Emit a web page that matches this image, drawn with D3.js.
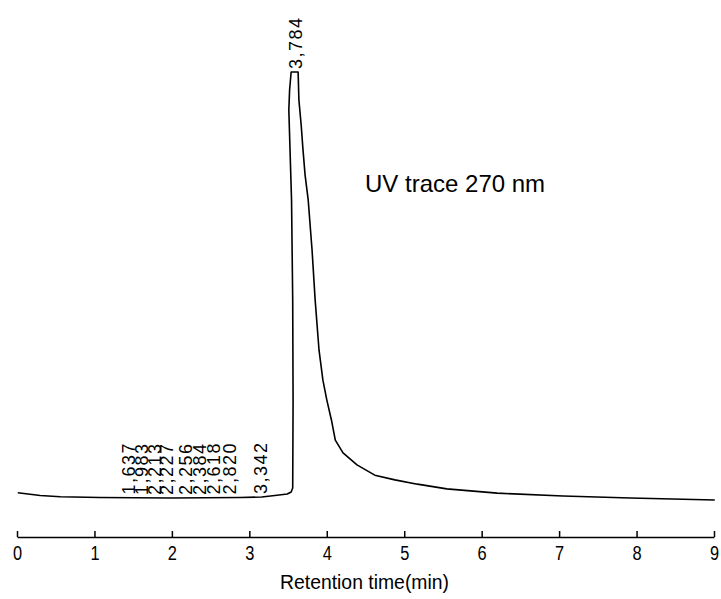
<!DOCTYPE html>
<html>
<head>
<meta charset="utf-8">
<script src="https://d3js.org/d3.v7.min.js"></script>
<style>
  body { margin: 0; background: #fff; }
  svg { display: block; }
</style>
</head>
<body>
<div id="chart"></div>
<script>
// trace (minutes on the axis, signal in mAU)
var timeMin = [0.01, 0.30, 0.56, 1.07, 1.98, 2.88, 3.16, 3.33, 3.49, 3.54, 3.56, 3.565, 3.56, 3.545, 3.51, 3.52, 3.54,
  3.63, 3.64, 3.67, 3.69, 3.72, 3.76, 3.81, 3.85, 3.90, 3.95, 4.00, 4.06, 4.11, 4.21, 4.39, 4.62, 4.88, 5.17, 5.55, 6.20, 7.05, 7.92, 9.01];
var signal = [17, 10.5, 7.7, 5.8, 4.7, 5.8, 7, 10.5, 14, 18.7, 28, 234, 467, 701, 911, 958, 1000,
  1000, 935, 875, 825, 759, 701, 584, 467, 350, 280, 234, 187, 140, 110, 82, 58, 47, 37, 26, 16, 9.3, 4.7, 0];

// peak labels and where they sit along the axis
var peakNames = ["1,637", "1,983", "2,213", "2,227", "2,256", "2,384", "2,618", "2,820", "3,342", "3,784"];
var peakPos = [1.446, 1.61, 1.78, 1.93, 2.17, 2.36, 2.54, 2.75, 3.15, 3.59];

var xTicks = [0, 1, 2, 3, 4, 5, 6, 7, 8, 9];

var width = 721, height = 599;

var svg = d3.select("#chart")
  .append("svg")
  .attr("width", width)
  .attr("height", height);

var x = d3.scaleLinear().domain([0, 9]).range([17, 714]);
var y = d3.scaleLinear().domain([0, 1000]).range([500, 72]);

var trace = timeMin.map(function(t, i) { return [t, signal[i]]; });

var line = d3.line()
  .x(function(d) { return x(d[0]); })
  .y(function(d) { return y(d[1]); });

svg.append("path")
  .datum(trace)
  .attr("fill", "none")
  .attr("stroke", "#000")
  .attr("stroke-width", 1.6)
  .attr("stroke-linejoin", "round")
  .attr("d", line);

// signal level at a given time, for parking the labels just above the trace
function levelAt(t) {
  var best = trace[0];
  trace.forEach(function(d) { if (d[1] > 0 && Math.abs(d[0] - t) < Math.abs(best[0] - t)) best = d; });
  return best[1];
}

svg.selectAll(".peak")
  .data(peakNames)
  .enter()
  .append("text")
  .attr("class", "peak")
  .attr("transform", function(d, i) {
    var t = peakPos[i];
    var lvl = i == peakNames.length - 1 ? 1000 : levelAt(t);
    return "translate(" + (x(t) + 6.5) + "," + (y(lvl) - 3) + ") rotate(-90)";
  })
  .attr("font-family", "'Liberation Sans', Arial, sans-serif")
  .attr("font-size", 18)
  .attr("letter-spacing", 1.5)
  .text(function(d) { return d; });

// x axis, ticks pointing up
var xAxis = d3.axisBottom(x)
  .tickValues(xTicks)
  .tickFormat(d3.format("d"))
  .tickSizeInner(-6)
  .tickSizeOuter(0)
  .tickPadding(8);

var gx = svg.append("g")
  .attr("transform", "translate(0,537)")
  .call(xAxis);

gx.select(".domain").attr("stroke-width", 1.5);
gx.selectAll(".tick line").attr("stroke-width", 1.5);
// the tick numbers are squeezed sideways in the original
gx.selectAll("text")
  .attr("fill", "#000")
  .attr("font-family", "'Liberation Sans', Arial, sans-serif")
  .attr("font-size", 21)
  .attr("transform", "scale(0.78,1)");

svg.append("text")
  .attr("x", 364.5)
  .attr("y", 589)
  .attr("text-anchor", "middle")
  .attr("font-family", "'Liberation Sans', Arial, sans-serif")
  .attr("font-size", 21)
  .attr("textLength", 169)
  .attr("lengthAdjust", "spacingAndGlyphs")
  .text("Retention time(min)");

svg.append("text")
  .attr("x", 365)
  .attr("y", 192)
  .attr("font-family", "'Liberation Sans', Arial, sans-serif")
  .attr("font-size", 24)
  .text("UV trace 270 nm");
</script>
</body>
</html>
